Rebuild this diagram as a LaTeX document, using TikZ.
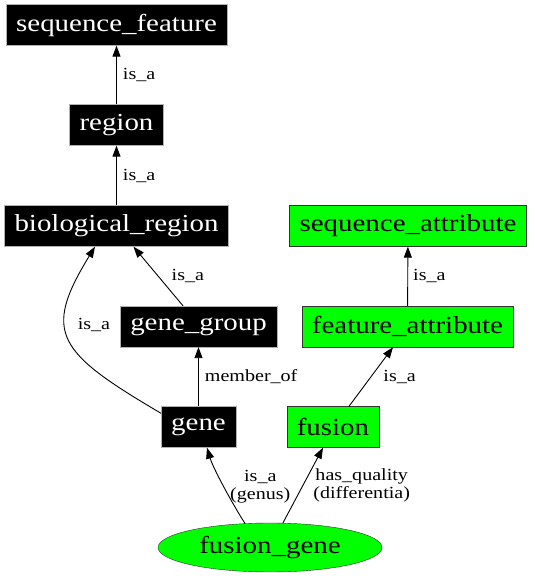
\documentclass[tikz,border=0pt]{standalone}
\usepackage{fontspec}
\setmainfont{Liberation Serif}
\newfontfamily\termfont[FakeStretch=1.18]{Liberation Serif}
\usepackage{tikz}
\usetikzlibrary{positioning}
\usetikzlibrary{calc}
\usetikzlibrary{arrows.meta}
\usetikzlibrary{shapes.geometric}
\definecolor{termgreen}{RGB}{0,255,0}

\tikzset{
  blackterm/.style={draw=gray!60, fill=black, text=white, font=\termfont\fontsize{24.5}{26}\selectfont,
    minimum height=41pt, inner xsep=10pt, inner ysep=0pt},
  greenterm/.style={draw=black!80, fill=termgreen, font=\termfont\fontsize{24.5}{26}\selectfont,
    minimum height=41pt, inner xsep=10pt, inner ysep=0pt},
  rel/.style={-{Triangle[length=11pt,width=8pt]}, line width=0.9pt},
  rellabel/.style={font=\termfont\fontsize{17}{18}\selectfont, inner sep=3pt, align=center}
}

\begin{document}
\begin{tikzpicture}[x=1pt, y=1pt]
  \useasboundingbox (0,0) rectangle (535,576);

  %---------------- terms ----------------
  \node[blackterm] (seqfeat) at (116.5,551) {sequence\_feature};
  \node[blackterm] (region) at (116.5,451) {region};
  \node[blackterm] (bioregion) at (116.5,350) {biological\_region};
  \node[blackterm] (genegroup) at (198.5,249.5) {gene\_group};
  \node[blackterm] (gene) at (198.5,149) {gene};

  \node[greenterm] (seqattr) at (408,350) {sequence\_attribute};
  \node[greenterm] (featattr) at (407.5,249.5) {feature\_attribute};
  \node[greenterm] (fusion) at (333,149) {fusion};

  \node[ellipse, draw=black!80, fill=termgreen, font=\termfont\fontsize{24.5}{26}\selectfont,
    minimum width=224pt, minimum height=49pt, inner sep=0pt] (fusiongene) at (270,28.5) {fusion\_gene};

  %---------------- relations ----------------
  \draw[rel] (region) -- node[rellabel, right=3pt] (l1) {is\_a} (seqfeat);
  \draw[rel] (bioregion) -- node[rellabel, right=3pt] (l2) {is\_a} (region);
  \draw[rel] ($(genegroup.north)+(-15.5,0)$) -- node[rellabel, right=10pt] (l3) {is\_a} ($(bioregion.south)+(17,0)$);
  \draw[rel] ($(gene.north west)+(0,-7)$) .. controls (57,224) and (42,243) .. node[pos=0.6, rellabel, right=9pt] (l4) {is\_a} ($(bioregion.south)+(-21.5,0)$);
  \draw[rel] (gene) -- node[rellabel, right=3pt] (l5) {member\_of} (genegroup);
  \draw[rel] (featattr) -- node[rellabel, right=2pt] (l6) {is\_a} (seqattr);
  \draw[rel] ($(fusion.north)+(16,0)$) -- node[rellabel, right=9pt] (l7) {is\_a} ($(featattr.south)+(-14.5,0)$);
  \draw[rel] ($(fusiongene.north)+(-25,-0.6)$) .. controls (233,71) and (213,108) .. node[rellabel, right=3pt] (l8) {is\_a\\(genus)} ($(gene.south)+(8.5,0)$);
  \draw[rel] ($(fusiongene.north)+(13,0)$) -- node[rellabel, right=7pt] (l9) {has\_quality\\(differentia)} ($(fusion.south)+(-10,0)$);
\end{tikzpicture}
\end{document}
